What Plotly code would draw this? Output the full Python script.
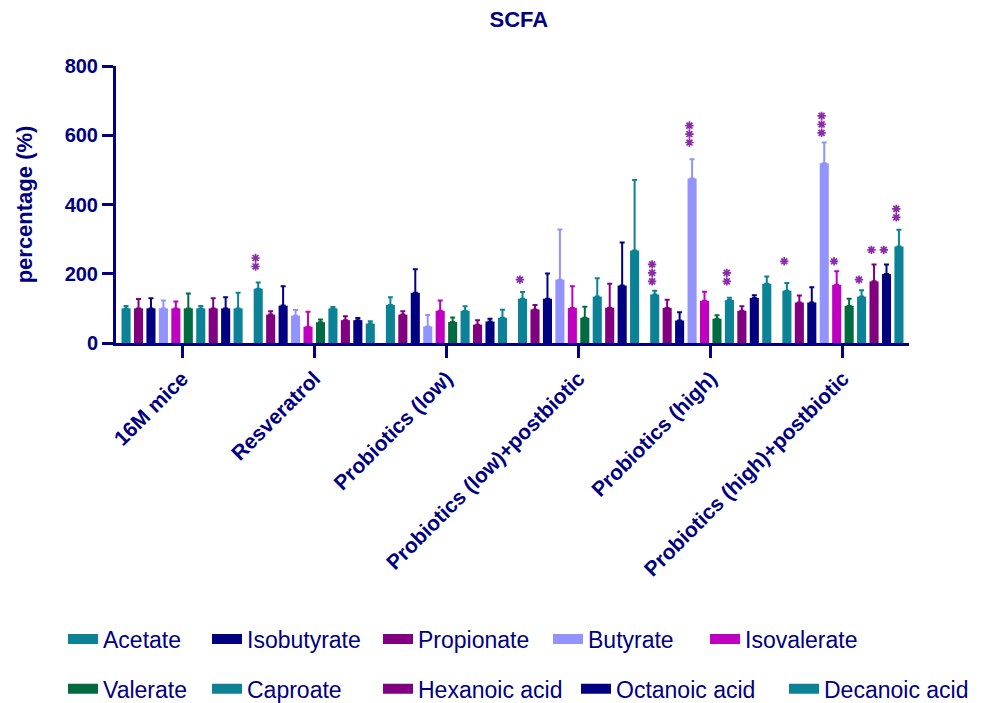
import plotly.graph_objects as go

# ---- data -------------------------------------------------------------
groups = ["16M mice", "Resveratrol", "Probiotics (low)",
          "Probiotics (low)+postbiotic", "Probiotics (high)",
          "Probiotics (high)+postbiotic"]

acetate = [100, 157, 110, 128, 140, 151]
acetate_err = [7, 18, 22, 19, 11, 22]
propionate = [100, 82, 82, 97, 101, 117]
propionate_err = [27, 10, 10, 13, 24, 20]
isobutyrate = [100, 108, 145, 128, 65, 117]
isobutyrate_err = [29, 56, 68, 73, 24, 44]
butyrate = [100, 79, 48, 183, 475, 519]
butyrate_err = [23, 16, 33, 145, 56, 60]
isovalerate = [100, 47, 93, 101, 122, 168]
isovalerate_err = [20, 43, 30, 63, 26, 39]
valerate = [100, 60, 61, 73, 70, 107]
valerate_err = [43, 8, 13, 32, 10, 21]
caproate = [100, 100, 93, 134, 124, 134]
caproate_err = [7, 4, 13, 53, 7, 18]
hexanoic = [100, 66, 53, 102, 93, 178]
hexanoic_err = [29, 11, 13, 69, 13, 49]
octanoic = [100, 66, 62, 166, 130, 199]
octanoic_err = [32, 6, 8, 124, 8, 28]
decanoic = [100, 56, 73, 267, 171, 279]
decanoic_err = [45, 7, 23, 204, 21, 48]

# significance marks: (group index, series, number of stars, y of lowest star)
sig_group = [1, 3, 4, 4, 4, 5, 5, 5, 5, 5, 5, 5]
sig_series = ["Acetate", "Acetate", "Acetate", "Butyrate", "Caproate",
              "Acetate", "Butyrate", "Isovalerate", "Caproate",
              "Hexanoic acid", "Octanoic acid", "Decanoic acid"]
sig_count = [2, 1, 3, 3, 2, 1, 3, 1, 1, 1, 1, 2]
sig_y = [221, 183, 178, 579, 178, 236, 607, 236, 183, 269, 269, 363]

# ---- styling ------------------------------------------------------------
NAVY = "#000080"
TEAL = "#0B8295"
PURPLE = "#800080"
LIGHT = "#9393FF"
MAGENTA = "#C000C0"
GREEN = "#006B40"
STAR = "#8A2BA8"
FONT = "Liberation Sans, Arial, sans-serif"

W, H = 986, 703
M_L, M_R, M_T, M_B = 116, 77, 66, 359.5
BARGAP = 0.058
GROUPGAP = 0.27
STAR_DX = -0.02    # stars sit slightly left of their bar centre
STAR_STEP = 24.5   # vertical spacing between stacked stars (data units)

# bar order inside each group: (name, values, errors, colour)
series = [
    ("Acetate", acetate, acetate_err, TEAL),
    ("Propionate", propionate, propionate_err, PURPLE),
    ("Isobutyrate", isobutyrate, isobutyrate_err, NAVY),
    ("Butyrate", butyrate, butyrate_err, LIGHT),
    ("Isovalerate", isovalerate, isovalerate_err, MAGENTA),
    ("Valerate", valerate, valerate_err, GREEN),
    ("Caproate", caproate, caproate_err, TEAL),
    ("Hexanoic acid", hexanoic, hexanoic_err, PURPLE),
    ("Octanoic acid", octanoic, octanoic_err, NAVY),
    ("Decanoic acid", decanoic, decanoic_err, TEAL),
]

# key layout below the chart: left edge of each entry (px) and row centre (px)
key_pos = {
    "Acetate": (63, 640), "Isobutyrate": (207, 640),
    "Propionate": (378, 640), "Butyrate": (548, 640),
    "Isovalerate": (705, 640),
    "Valerate": (63, 690), "Caproate": (207, 690),
    "Hexanoic acid": (378, 690), "Octanoic acid": (576, 690),
    "Decanoic acid": (784, 690),
}

x_pos = list(range(len(groups)))
plot_w = W - M_L - M_R
plot_h = H - M_T - M_B

fig = go.Figure()
legend_layout = {}
for k, (name, vals, err, color) in enumerate(series):
    fig.add_trace(go.Bar(
        name=name, x=x_pos, y=vals, showlegend=False,
        marker=dict(color=color, line=dict(width=0)),
        error_y=dict(type="data", array=err, arrayminus=[0] * len(err),
                     symmetric=False, color=color, thickness=2, width=2.5),
    ))
    leg_id = "legend" if k == 0 else f"legend{k + 1}"
    # wide colour swatch for this series' key entry
    fig.add_trace(go.Scatter(
        name=name, x=[None], y=[None], mode="lines",
        line=dict(color=color, width=14), legend=leg_id,
        hoverinfo="skip",
    ))
    px, py = key_pos[name]
    legend_layout[leg_id] = dict(
        x=(px - M_L) / plot_w, y=(H - M_B - py) / plot_h,
        xanchor="left", yanchor="middle", orientation="h",
        font=dict(family=FONT, size=23, color=NAVY),
        bgcolor="rgba(0,0,0,0)", itemwidth=30,
    )

# star markers placed above the bar they belong to
names = [s[0] for s in series]
n_series = len(series)
slot = (1 - BARGAP) / n_series
sx, sy = [], []
for g, s, c, y0 in zip(sig_group, sig_series, sig_count, sig_y):
    i = names.index(s)
    xc = g - (1 - BARGAP) / 2 + (i + 0.5) * slot + STAR_DX
    for k in range(c):
        sx.append(xc)
        sy.append(y0 + k * STAR_STEP)
fig.add_trace(go.Scatter(
    x=sx, y=sy, mode="markers", showlegend=False, hoverinfo="skip",
    marker=dict(symbol="asterisk-open", size=7, color=STAR,
                line=dict(color=STAR, width=1.7)),
))

axis_common = dict(
    showline=True, linewidth=3, linecolor=NAVY, showgrid=False,
    zeroline=False, ticks="outside", tickwidth=3, tickcolor=NAVY,
)

fig.update_layout(
    width=W, height=H,
    margin=dict(l=M_L, r=M_R, t=M_T, b=M_B, autoexpand=False),
    paper_bgcolor="white", plot_bgcolor="white",
    barmode="group", bargap=BARGAP, bargroupgap=GROUPGAP,
    title=dict(text="SCFA", xref="paper", x=0.508, xanchor="center",
               yref="container", y=0.972, yanchor="middle",
               font=dict(family=FONT, size=22, color=NAVY, weight="bold")),
    xaxis=dict(range=[-0.5, len(groups) - 0.5], tickvals=x_pos,
               ticktext=groups, tickangle=-45, ticklen=12,
               tickfont=dict(family=FONT, size=21, color=NAVY,
                             weight="bold"),
               **axis_common),
    yaxis=dict(range=[0, 800], tickvals=[0, 200, 400, 600, 800],
               ticklen=11,
               tickfont=dict(family=FONT, size=20, color=NAVY,
                             weight="bold"),
               title=dict(text="percentage (%)", standoff=26,
                          font=dict(family=FONT, size=22, color=NAVY,
                                    weight="bold")),
               **axis_common),
    **legend_layout,
)

fig.write_html("out.html")
